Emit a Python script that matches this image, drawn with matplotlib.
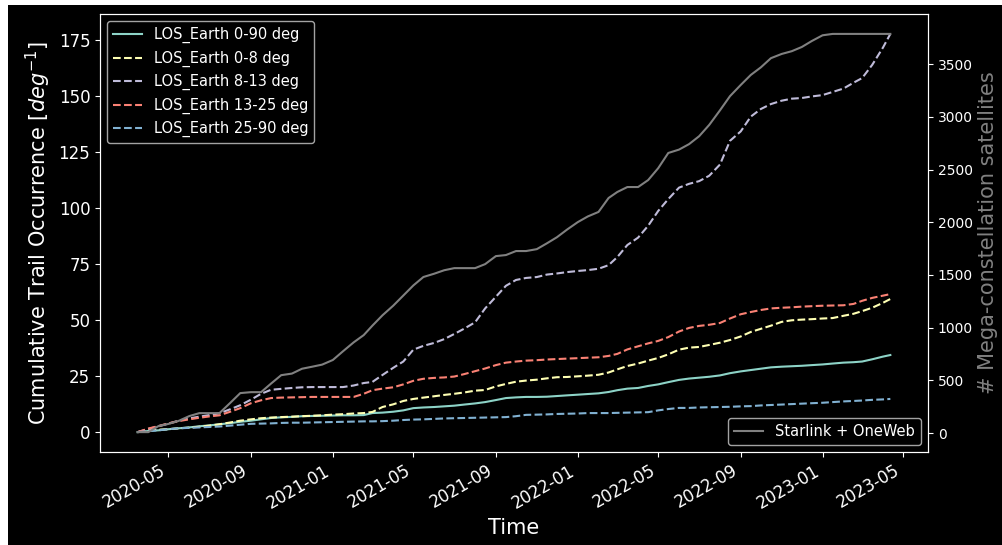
import matplotlib
matplotlib.use("Agg")
import matplotlib.pyplot as plt
import matplotlib.dates as mdates
from matplotlib.patches import Rectangle
import pandas as pd

dates = ["2020-03-16","2020-04-01","2020-04-16","2020-05-01","2020-05-16","2020-06-01","2020-06-16",
         "2020-07-01","2020-07-16","2020-08-01","2020-08-16","2020-09-01","2020-09-16","2020-10-01",
         "2020-10-16","2020-11-01","2020-11-16","2020-12-01","2020-12-16","2021-01-01","2021-01-16",
         "2021-02-01","2021-02-16","2021-03-01","2021-03-16","2021-04-01","2021-04-16","2021-05-01",
         "2021-05-16","2021-06-01","2021-06-16","2021-07-01","2021-07-16","2021-08-01","2021-08-16",
         "2021-09-01","2021-09-16","2021-10-01","2021-10-16","2021-11-01","2021-11-16","2021-12-01",
         "2021-12-16","2022-01-01","2022-01-16","2022-02-01","2022-02-16","2022-03-01","2022-03-16",
         "2022-04-01","2022-04-16","2022-05-01","2022-05-16","2022-06-01","2022-06-16","2022-07-01",
         "2022-07-16","2022-08-01","2022-08-16","2022-09-01","2022-09-16","2022-10-01","2022-10-16",
         "2022-11-01","2022-11-16","2022-12-01","2022-12-16","2023-01-01","2023-01-16","2023-02-01",
         "2023-02-16","2023-03-01","2023-03-16","2023-04-01","2023-04-12"]

los_0_90 = [0, 0.5, 0.8, 1.3, 1.7, 2.1, 2.6, 3.0, 3.5, 4.0, 4.6, 5.1, 5.7, 6.3, 6.6, 6.8, 7.1, 7.2, 7.3,
            7.4, 7.5, 7.5, 7.6, 8.5, 8.7, 9.1, 9.7, 10.7, 11.0, 11.2, 11.5, 11.8, 12.3, 12.8, 13.4, 14.3,
            15.2, 15.5, 15.7, 15.7, 15.8, 16.1, 16.4, 16.7, 17.0, 17.3, 17.9, 18.7, 19.4, 19.7, 20.6,
            21.3, 22.3, 23.3, 23.9, 24.3, 24.7, 25.3, 26.3, 27.1, 27.7, 28.3, 28.9, 29.2, 29.4, 29.6,
            29.9, 30.2, 30.6, 31.0, 31.2, 31.5, 32.5, 33.7, 34.4]

los_0_8 = [0, 0.8, 1.1, 1.3, 1.7, 2.0, 2.4, 2.9, 3.5, 4.3, 5.1, 5.7, 6.2, 6.5, 6.7, 6.9, 7.1, 7.3, 7.5,
           7.8, 8.0, 8.3, 8.5, 9.0, 11.2, 12.4, 13.9, 14.8, 15.4, 16.0, 16.6, 17.1, 17.7, 18.5, 18.8,
           20.4, 21.5, 22.5, 23.0, 23.4, 24.0, 24.5, 24.6, 24.9, 25.2, 25.6, 26.6, 28.0, 29.5, 30.6,
           31.9, 33.1, 34.7, 36.8, 37.7, 38.0, 38.9, 39.9, 41.1, 42.7, 44.7, 46.1, 47.5, 49.2, 49.9,
           50.2, 50.4, 50.7, 50.9, 51.9, 52.8, 54.0, 55.5, 57.7, 59.4]

los_8_13 = [0, 1.4, 2.6, 3.8, 5.1, 6.1, 6.9, 7.6, 8.4, 10.2, 12.0, 14.5, 17.1, 18.9, 19.3, 19.7, 20.0,
            20.1, 20.1, 20.1, 20.1, 20.8, 21.9, 22.4, 25.5, 28.7, 31.5, 36.8, 38.5, 39.8, 41.5, 43.8,
            46.2, 49.0, 55.2, 60.4, 65.3, 67.9, 68.8, 69.2, 70.3, 70.8, 71.4, 71.9, 72.3, 72.9, 74.5,
            78.1, 83.5, 86.8, 92.1, 98.7, 104.0, 109.1, 110.8, 112.0, 114.4, 119.4, 130.0, 134.2,
            140.8, 144.2, 146.4, 147.9, 148.8, 149.1, 149.8, 150.4, 151.8, 153.3, 155.9, 158.0,
            163.9, 171.6, 177.7]

los_13_25 = [0, 1.6, 2.7, 3.9, 4.9, 5.7, 6.4, 7.0, 7.5, 9.1, 10.7, 12.9, 14.2, 15.2, 15.4, 15.5, 15.6,
             15.7, 15.7, 15.7, 15.7, 15.7, 17.1, 18.7, 19.4, 20.0, 21.3, 22.9, 23.8, 24.2, 24.4, 24.8,
             25.9, 27.2, 28.4, 29.9, 31.0, 31.5, 31.9, 32.1, 32.4, 32.6, 32.8, 33.0, 33.2, 33.4, 34.0,
             34.9, 36.9, 38.3, 39.6, 40.7, 42.4, 44.9, 46.5, 47.4, 47.9, 48.7, 50.7, 52.6, 53.6, 54.5,
             55.2, 55.5, 55.7, 56.0, 56.2, 56.4, 56.5, 56.6, 57.2, 58.6, 59.9, 60.9, 61.6]

los_25_90 = [0, 0.5, 0.8, 1.3, 1.7, 1.9, 2.1, 2.3, 2.5, 2.9, 3.3, 3.7, 3.8, 3.9, 4.1, 4.2, 4.2, 4.3,
             4.4, 4.5, 4.6, 4.7, 4.8, 4.8, 4.9, 5.1, 5.4, 5.6, 5.7, 5.9, 6.1, 6.2, 6.3, 6.4, 6.5, 6.6,
             6.7, 7.1, 7.7, 7.8, 7.9, 8.1, 8.2, 8.3, 8.5, 8.5, 8.5, 8.6, 8.7, 8.8, 8.9, 9.7, 10.3,
             10.8, 10.8, 11.0, 11.1, 11.2, 11.3, 11.5, 11.6, 11.9, 12.1, 12.3, 12.5, 12.7, 12.9,
             13.1, 13.4, 13.7, 13.9, 14.1, 14.4, 14.6, 14.8]

satellites = [10, 10, 67, 88, 116, 162, 190, 190, 190, 287, 380, 389, 389, 471, 550, 565, 611, 630,
              650, 694, 776, 861, 930, 1020, 1118, 1209, 1305, 1401, 1481, 1512, 1545, 1565, 1565,
              1565, 1603, 1679, 1689, 1727, 1727, 1745, 1800, 1858, 1930, 2001, 2055, 2098, 2230,
              2287, 2334, 2334, 2400, 2513, 2657, 2689, 2741, 2816, 2923, 3061, 3196, 3302, 3397,
              3469, 3556, 3596, 3622, 3662, 3719, 3773, 3786, 3786, 3786, 3786, 3786, 3786, 3786]

series = [("LOS_Earth 0-90 deg", los_0_90, "-", "#8dd3c7"),
          ("LOS_Earth 0-8 deg", los_0_8, "--", "#feffb3"),
          ("LOS_Earth 8-13 deg", los_8_13, "--", "#bfbbd9"),
          ("LOS_Earth 13-25 deg", los_13_25, "--", "#fa8174"),
          ("LOS_Earth 25-90 deg", los_25_90, "--", "#81b1d2")]

plt.style.use("dark_background")
d = pd.to_datetime(dates)

fig = plt.figure(figsize=(10.03, 5.45), dpi=100)
fig.patch.set_facecolor("white")
fig.add_artist(Rectangle((8 / 1003, 0), 1, 1 - 5 / 545, transform=fig.transFigure,
                         facecolor="black", edgecolor="none", zorder=-10))

ax = fig.add_axes([0.0997, 0.1706, 0.8255, 0.8037])
ax.set_facecolor("black")
for label, vals, ls, col in series:
    ax.plot(d, vals, ls, color=col, label=label, lw=1.5)

ax2 = ax.twinx()
ax2.plot(d, satellites, color="grey", lw=1.5, label="Starlink + OneWeb")

ax.legend(loc="upper left", fontsize=10.5)
ax2.legend(loc="lower right", fontsize=10.5)

ax.set_ylabel("Cumulative Trail Occurrence [$deg^{-1}$]", fontsize=15)
ax.set_xlabel("Time", fontsize=15)
ax2.set_ylabel("# Mega-constellation satellites", fontsize=15, color="grey")

ax.tick_params(labelsize=12)
ax2.tick_params(labelsize=10)
ax.xaxis.set_major_locator(mdates.MonthLocator(bymonth=[1, 5, 9]))
ax.xaxis.set_major_formatter(mdates.DateFormatter("%Y-%m"))
for lab in ax.get_xticklabels():
    lab.set_rotation(30)
    lab.set_ha("right")

fig.savefig("out.png", dpi=100)
